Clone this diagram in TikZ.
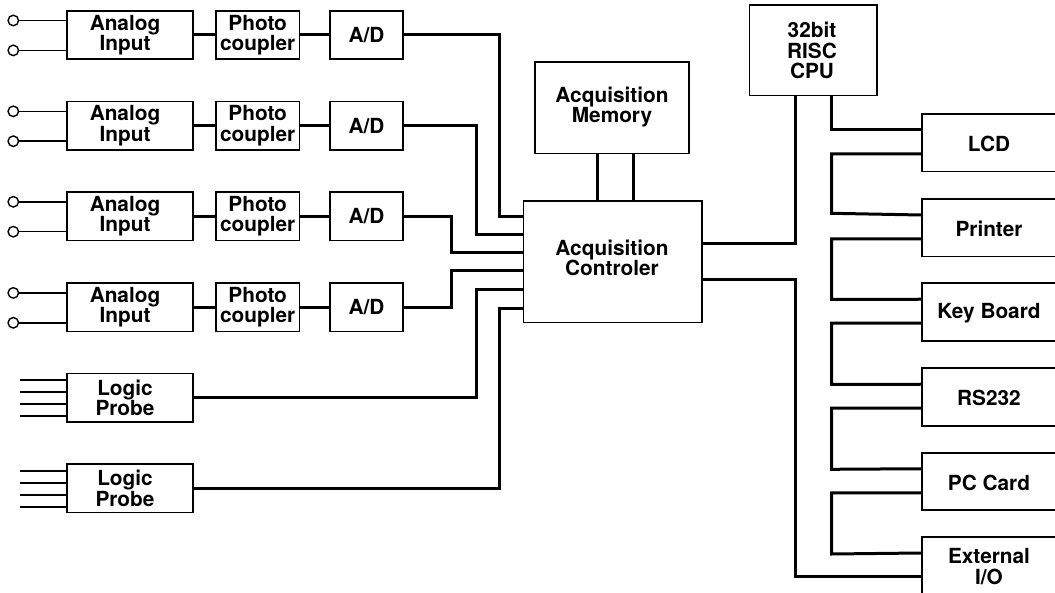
\documentclass[tikz,border=0pt]{standalone}
\usepackage{fontspec}
\setmainfont{TeX Gyre Heros}
\usetikzlibrary{calc}
\begin{document}
\begin{tikzpicture}[x=1pt,y=-1pt,
  box/.style={draw, line width=1.6pt, inner sep=0pt},
  txt/.style={font=\fontsize{20.8}{20.5}\selectfont\bfseries, align=center, inner sep=0pt},
  bus/.style={line width=3pt},
  wire/.style={line width=1.5pt},
  term/.style={draw, circle, line width=1.4pt, minimum size=10.5pt, inner sep=0pt}]
\useasboundingbox (0,0) rectangle (1055,593);
\clip (0,0) rectangle (1055,593);

% analog rows
\foreach \i/\cy in {1/35,2/125.8,3/216.3,4/307.4}{
  \node[box, minimum width=126pt, minimum height=48.3pt] (ai\i) at (130,\cy) {};
  \node[txt] (ait\i) at (125,\cy) {Analog\\Input};
  \node[box, minimum width=83.3pt, minimum height=48.3pt] (pc\i) at (257.7,\cy) {};
  \node[txt] (pct\i) at (257.7,\cy) {Photo\\coupler};
  \node[box, minimum width=73pt, minimum height=48.3pt] (ad\i) at (366.5,\cy) {};
  \node[txt] (adt\i) at (366.5,\cy) {A/D};
  \node[term] (ta\i) at (13.3,\cy-14.5) {};
  \node[term] (tb\i) at (13.3,\cy+15.4) {};
  \draw[wire] (ta\i.east) -- (ai\i.west |- ta\i);
  \draw[wire] (tb\i.east) -- (ai\i.west |- tb\i);
  \draw[bus] (ai\i.east) -- (pc\i.west);
  \draw[bus] (pc\i.east) -- (ad\i.west);
}

% logic probes
\foreach \i/\cy in {1/397.7,2/488.3}{
  \node[box, minimum width=126pt, minimum height=48.7pt] (lp\i) at (130,\cy) {};
  \node[txt] (lpt\i) at (125,\cy) {Logic\\Probe};
  \foreach \j/\dy in {a/-17.5,b/-5.5,c/6.5,d/18.5}{
    \coordinate (lp\i\j) at (20,\cy+\dy);
    \draw[wire] (lp\i\j) -- (lp\i.west |- lp\i\j);
  }
}

% memory and controller
\node[box, minimum width=154pt, minimum height=91.3pt] (mem) at (612,107.7) {};
\node[txt] (memt) at (612,107) {Acquisition\\Memory};
\node[box, minimum width=178.4pt, minimum height=121.7pt] (ctrl) at (612.5,261.8) {};
\node[txt] (ctrlt) at (612,258) {Acquisition\\Controler};
\draw[bus] (mem.south -| 597.3,0) -- (ctrl.north -| 597.3,0);
\draw[bus] (mem.south -| 633.3,0) -- (ctrl.north -| 633.3,0);

% inputs into controller
\draw[bus] (ad1.east) -| (499,216.7) -- (ctrl.west |- 0,216.7);
\draw[bus] (ad2.east) -| (476,234.3) -- (ctrl.west |- 0,234.3);
\draw[bus] (ad3.east) -| (451.7,252.3) -- (ctrl.west |- 0,252.3);
\draw[bus] (ad4.east) -| (451.7,271) -- (ctrl.west |- 0,271);
\draw[bus] (lp1.east) -| (476,289.3) -- (ctrl.west |- 0,289.3);
\draw[bus] (lp2.east) -| (499,308.3) -- (ctrl.west |- 0,308.3);

% CPU
\node[box, minimum width=127.4pt, minimum height=90.7pt] (cpu) at (813,50.3) {};
\node[txt] (cput) at (812,50.5) {32bit\\RISC\\CPU};

% right column
\foreach \n/\cy/\t in {lcd/142.75/{LCD}, prn/227.75/{Printer}, key/312/{Key Board}, rs/397/{RS232}, pcc/481.5/{PC Card}, ext/565.75/{External\\I/O}}{
  \node[box, minimum width=136.6pt, minimum height=57.5pt] (\n) at (990,\cy) {};
  \node[txt] (\n t) at (989,\cy+1) {\t};
}

\draw[bus] (ctrl.east |- 0,243.3) -| (cpu.south -| 795,0);
\draw[bus] (cpu.south -| 831.7,0) |- ([yshift=12.75pt]lcd.west);
\draw[bus] ([yshift=-11.25pt]lcd.west) -| (831.7,213.3) -- ([yshift=12.75pt]prn.west);
\draw[bus] ([yshift=-11.25pt]prn.west) -| (831.7,299.3) -- ([yshift=12.75pt]key.west);
\draw[bus] ([yshift=-11.25pt]key.west) -| (831.7,384.3) -- ([yshift=12.75pt]rs.west);
\draw[bus] ([yshift=-11.25pt]rs.west) -| (831.7,469.3) -- ([yshift=12.75pt]pcc.west);
\draw[bus] ([yshift=-11.25pt]pcc.west) -| (831.7,554) -- ([yshift=12.75pt]ext.west);
\draw[bus] (ctrl.east |- 0,279.3) -| (795,576.7) -- (ext.west |- 0,576.7);
\end{tikzpicture}
\end{document}
